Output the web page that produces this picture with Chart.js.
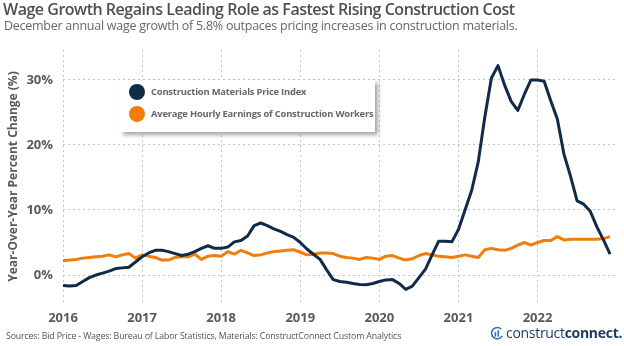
<!DOCTYPE html>
<html>
<head>
<meta charset="utf-8">
<script src="https://cdn.jsdelivr.net/npm/chart.js@4.4.1/dist/chart.umd.min.js"></script>
<style>
  html, body { margin: 0; padding: 0; background: #fff; }
  body { width: 624px; height: 346px; position: relative; overflow: hidden; font-family: 'Open Sans', sans-serif; }
  #wrap { position: absolute; left: 0; top: 0; width: 624px; height: 346px; }
  .title { position: absolute; left: 3px; top: -2px; font-size: 16px; font-weight: 600; color: #4f4f4f; white-space: nowrap; letter-spacing: -0.48px; }
  .subtitle { position: absolute; left: 4px; top: 17px; font-size: 12.5px; color: #666; white-space: nowrap; letter-spacing: -0.26px; }
  .source { position: absolute; left: 6px; top: 330px; font-size: 8.8px; color: #555; white-space: nowrap; letter-spacing: -0.15px; }
  .logo { position: absolute; left: 490px; top: 323px; font-size: 14px; color: #1d3a5a; white-space: nowrap; letter-spacing: -0.3px; }
  .logo b { font-weight: 700; }
  .logo svg { vertical-align: -2px; margin-right: 1px; }
  #legend { position: absolute; left: 120px; top: 80px; width: 255px; height: 52px; background: #fff;
            box-shadow: 3px 3px 4px rgba(0,0,0,0.35); }
  .item { position: absolute; left: 9px; font-size: 9.4px; font-weight: 700; color: #666; white-space: nowrap; letter-spacing: -0.2px; }
  .item span.dot { display: inline-block; width: 16px; height: 16px; border-radius: 50%; vertical-align: middle; margin-right: 6px; }
</style>
</head>
<body>
<div id="wrap"><canvas id="chart" width="624" height="346"></canvas></div>
<div class="title">Wage Growth Regains Leading Role as Fastest Rising Construction Cost</div>
<div class="subtitle">December annual wage growth of 5.8% outpaces pricing increases in construction materials.</div>
<div id="legend"></div>
<div class="source">Sources: Bid Price - Wages: Bureau of Labor Statistics, Materials: ConstructConnect Custom Analytics</div>
<div class="logo"><svg width="15" height="14" viewBox="0 0 16 14"><path d="M12 3 A6 6 0 1 0 13 10" fill="none" stroke="#2a6fb0" stroke-width="1.6"/><rect x="5" y="6" width="1.6" height="5" fill="#2a6fb0"/><rect x="8" y="4" width="1.6" height="7" fill="#2a6fb0"/></svg>construct<b>connect.</b></div>

<script>
// Year labels for the x axis (one tick per January)
const years = ['2016', '2017', '2018', '2019', '2020', '2021', '2022'];

// Monthly year-over-year % change, Jan 2016 - Dec 2022
const materials = [
  -1.6, -1.7, -1.6, -1.0, -0.4, 0.0, 0.3, 0.6, 1.0, 1.1, 1.2, 2.0,
  2.8, 3.4, 3.8, 3.8, 3.6, 3.3, 3.0, 3.2, 3.6, 4.1, 4.5, 4.1,
  4.1, 4.3, 5.1, 5.3, 6.0, 7.6, 8.0, 7.6, 7.1, 6.7, 6.2, 5.8,
  5.0, 4.0, 3.2, 2.4, 0.8, -0.7, -1.0, -1.1, -1.3, -1.45, -1.5, -1.3,
  -1.0, -0.75, -0.7, -1.3, -2.2, -1.7, -0.4, 0.9, 3.1, 5.2, 5.2, 5.1,
  7.0, 10.0, 13.0, 17.4, 24.3, 30.3, 32.2, 29.2, 26.7, 25.3, 27.8, 30.0,
  30.0, 29.8, 26.8, 24.0, 18.6, 15.2, 11.4, 10.9, 9.8, 7.4, 5.4, 3.2
];
const wages = [
  2.2, 2.3, 2.4, 2.6, 2.7, 2.8, 2.9, 3.1, 2.8, 3.1, 3.3, 2.6,
  3.1, 2.9, 2.7, 2.3, 2.3, 2.7, 2.8, 2.8, 3.2, 2.4, 2.9, 3.0,
  2.9, 3.6, 3.2, 3.8, 3.4, 3.0, 3.1, 3.4, 3.6, 3.7, 3.8, 3.9,
  3.5, 3.1, 3.2, 3.4, 3.4, 3.3, 2.9, 2.7, 2.6, 2.4, 2.7, 2.6,
  2.4, 2.9, 3.0, 2.6, 2.3, 2.5, 3.0, 3.3, 3.1, 2.9, 2.8, 2.7,
  2.9, 3.1, 2.9, 2.7, 3.9, 4.1, 3.9, 3.8, 4.1, 4.6, 5.0, 4.6,
  5.0, 5.3, 5.3, 5.9, 5.4, 5.5, 5.5, 5.5, 5.5, 5.5, 5.6, 5.9
];
const seriesNames = ['Construction Materials Price Index', 'Average Hourly Earnings of Construction Workers'];
const seriesColors = ['#0f2b48', '#f07d0c'];
const yTicks = [0, 10, 20, 30];

Chart.defaults.font.family = "'Open Sans', sans-serif";
Chart.defaults.color = '#595959';

const gridColor = '#c4c4c4';

const chart = new Chart(document.getElementById('chart'), {
  type: 'line',
  data: {
    datasets: [materials, wages].map((vals, k) => ({
      label: seriesNames[k],
      data: vals.map((v, i) => ({ x: i, y: v })),
      borderColor: seriesColors[k],
      backgroundColor: seriesColors[k],
      borderWidth: 3,
      pointRadius: 0,
      tension: 0,
      borderJoinStyle: 'round'
    }))
  },
  options: {
    responsive: false,
    animation: false,
    layout: { padding: { top: 50, right: 9, bottom: 18, left: 0 } },
    plugins: {
      legend: { display: false },
      tooltip: { enabled: false }
    },
    scales: {
      x: {
        type: 'linear',
        min: 0,
        max: 83.75,
        afterBuildTicks: axis => { axis.ticks = years.map((y, i) => ({ value: i * 12 })); },
        afterFit: scale => { scale.height = 25; },
        border: { display: false, dash: [2, 3] },
        grid: { color: gridColor, lineWidth: 1, drawTicks: false },
        ticks: {
          padding: 7,
          font: { size: 13, weight: 'bold' },
          maxRotation: 0,
          callback: v => years[v / 12]
        }
      },
      y: {
        min: -4.3,
        max: 34.6,
        afterBuildTicks: axis => { axis.ticks = yTicks.map(v => ({ value: v })); },
        afterFit: scale => { scale.width = 63; },
        border: { display: false, dash: [2, 3] },
        grid: { color: gridColor, lineWidth: 1, drawTicks: false },
        ticks: {
          padding: 10,
          font: { size: 13, weight: 'bold' },
          callback: v => v + '%'
        },
        title: {
          display: true,
          text: 'Year-Over-Year Percent Change (%)',
          font: { size: 12, weight: 'bold' },
          padding: { top: 6, bottom: 0 }
        }
      }
    }
  }
});

// legend box built from the datasets
const legend = document.getElementById('legend');
chart.data.datasets.forEach((ds, k) => {
  const d = document.createElement('div');
  d.className = 'item';
  d.style.top = (4 + k * 22) + 'px';
  d.innerHTML = '<span class="dot" style="background:' + ds.borderColor + '"></span>' + ds.label;
  legend.appendChild(d);
});
</script>
</body>
</html>
